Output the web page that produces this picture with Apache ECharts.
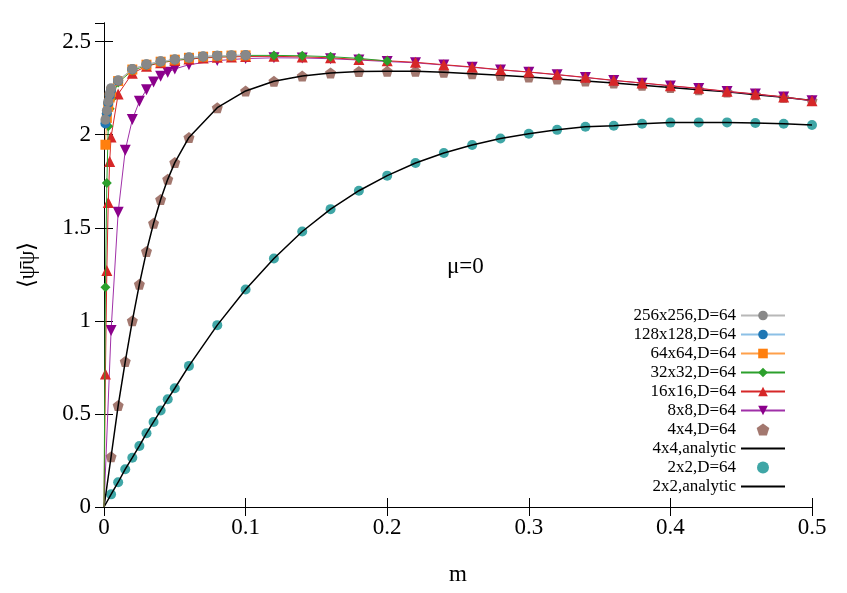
<!DOCTYPE html>
<html lang="en">
	<head>
		<meta charset="UTF-8">
		<title>chiral condensate vs m</title>
	</head>

	<style>
		html, body { margin: 0; padding: 0; background: #fff; }
		#echarts { width: 847px; height: 593px; }
	</style>

	<body>
		<div id="echarts"></div>
	</body>

	<script type="text/javascript" src="https://cdn.jsdelivr.net/npm/echarts@6/dist/echarts.min.js"></script>
	<script>
		// values, [m, <psibar psi>]
		var origin = [0, 0]

		var lat256 = [
			[0.001, 2.08], [0.002, 2.13], [0.003, 2.18], [0.004, 2.22], [0.005, 2.25],
			[0.01, 2.292], [0.02, 2.353], [0.03, 2.378], [0.04, 2.394], [0.05, 2.404],
			[0.06, 2.414], [0.07, 2.420], [0.08, 2.424], [0.09, 2.426], [0.10, 2.427]
		]
		var lat128 = [
			[0.001, 2.06], [0.002, 2.115], [0.003, 2.17], [0.004, 2.21], [0.005, 2.24],
			[0.01, 2.29], [0.02, 2.352], [0.03, 2.377], [0.04, 2.393], [0.05, 2.404],
			[0.06, 2.414], [0.07, 2.420], [0.08, 2.424], [0.09, 2.426], [0.10, 2.427]
		]
		var lat64 = [
			[0.001, 1.946], [0.002, 2.09], [0.003, 2.15], [0.004, 2.20], [0.005, 2.23],
			[0.01, 2.288], [0.02, 2.350], [0.03, 2.376], [0.04, 2.392], [0.05, 2.403],
			[0.06, 2.413], [0.07, 2.419], [0.08, 2.423], [0.09, 2.425], [0.10, 2.426]
		]
		var lat32 = [
			origin,
			[0.001, 1.181], [0.002, 1.740], [0.003, 2.045], [0.004, 2.14], [0.005, 2.19],
			[0.01, 2.28], [0.02, 2.345], [0.03, 2.372], [0.04, 2.39], [0.05, 2.40],
			[0.06, 2.41], [0.07, 2.417], [0.08, 2.421], [0.09, 2.424], [0.10, 2.426],
			[0.12, 2.426], [0.14, 2.424], [0.16, 2.419], [0.18, 2.410], [0.20, 2.396]
		]
		var lat16 = [
			origin,
			[0.001, 0.715], [0.002, 1.270], [0.003, 1.636], [0.004, 1.856], [0.005, 1.988],
			[0.01, 2.218], [0.02, 2.330], [0.03, 2.368], [0.04, 2.386], [0.05, 2.398],
			[0.06, 2.406], [0.07, 2.412], [0.08, 2.416], [0.09, 2.418], [0.10, 2.420],
			[0.12, 2.421], [0.14, 2.418], [0.16, 2.413], [0.18, 2.404], [0.20, 2.397],
			[0.22, 2.389], [0.24, 2.376], [0.26, 2.364], [0.28, 2.349], [0.30, 2.337],
			[0.32, 2.323], [0.34, 2.308], [0.36, 2.292], [0.38, 2.278], [0.40, 2.263],
			[0.42, 2.249], [0.44, 2.233], [0.46, 2.219], [0.48, 2.203], [0.50, 2.183]
		]
		var lat8 = [
			origin,
			[0.005, 0.948], [0.01, 1.584], [0.015, 1.916], [0.02, 2.081], [0.025, 2.179],
			[0.03, 2.242], [0.035, 2.283], [0.04, 2.314], [0.045, 2.335], [0.05, 2.353],
			[0.06, 2.376], [0.08, 2.398], [0.10, 2.409], [0.12, 2.413], [0.14, 2.412],
			[0.16, 2.408], [0.18, 2.401], [0.20, 2.393], [0.22, 2.386], [0.24, 2.374],
			[0.26, 2.362], [0.28, 2.348], [0.30, 2.336], [0.32, 2.322], [0.34, 2.307],
			[0.36, 2.291], [0.38, 2.277], [0.40, 2.262], [0.42, 2.248], [0.44, 2.232],
			[0.46, 2.218], [0.48, 2.202], [0.50, 2.182]
		]
		var lat4 = [
			[0.005, 0.270], [0.01, 0.545], [0.015, 0.781], [0.02, 1.000], [0.025, 1.197],
			[0.03, 1.373], [0.035, 1.524], [0.04, 1.652], [0.045, 1.760], [0.05, 1.850],
			[0.06, 1.985], [0.08, 2.145], [0.10, 2.235], [0.12, 2.287], [0.14, 2.315],
			[0.16, 2.332], [0.18, 2.340], [0.20, 2.341], [0.22, 2.341], [0.24, 2.335],
			[0.26, 2.328], [0.28, 2.319], [0.30, 2.310], [0.32, 2.299], [0.34, 2.289],
			[0.36, 2.278], [0.38, 2.265], [0.40, 2.253], [0.42, 2.242], [0.44, 2.230],
			[0.46, 2.215], [0.48, 2.201], [0.50, 2.184]
		]
		var lat2 = [
			[0.005, 0.068], [0.01, 0.133], [0.015, 0.203], [0.02, 0.265], [0.025, 0.328],
			[0.03, 0.396], [0.035, 0.457], [0.04, 0.518], [0.045, 0.579], [0.05, 0.638],
			[0.06, 0.758], [0.08, 0.977], [0.10, 1.168], [0.12, 1.335], [0.14, 1.480],
			[0.16, 1.600], [0.18, 1.699], [0.20, 1.780], [0.22, 1.848], [0.24, 1.902],
			[0.26, 1.945], [0.28, 1.980], [0.30, 2.005], [0.32, 2.026], [0.34, 2.043],
			[0.36, 2.048], [0.38, 2.059], [0.40, 2.065], [0.42, 2.066], [0.44, 2.066],
			[0.46, 2.063], [0.48, 2.059], [0.50, 2.052]
		]
		// analytic curves go through the origin and the same points
		var analytic4 = [origin].concat(lat4)
		var analytic2 = [origin].concat(lat2)

		var legendNames = [
			'256x256,D=64', '128x128,D=64', '64x64,D=64', '32x32,D=64', '16x16,D=64',
			'8x8,D=64', '4x4,D=64', '4x4,analytic', '2x2,D=64', '2x2,analytic'
		]
		var lineOnly = ['4x4,analytic', '2x2,analytic']
		var xTicks = [0, 0.5, 0.1]   // min, max, step
		var yTicks = [0, 2.6, 0.5]

		var FONT = 'Liberation Serif'
		var pentagon = 'path://M0,-10 L9.51,-3.09 L5.88,8.09 L-5.88,8.09 L-9.51,-3.09 Z'

		function noSymbolAtOrigin (list) {
			return list.map(function (p) {
				return (p[0] === 0 && p[1] === 0) ? { value: p, symbol: 'none' } : p
			})
		}

		function lineSeries (name, data, lineColor, color, symbol, size, z, extra) {
			var s = {
				name: name,
				type: 'line',
				data: noSymbolAtOrigin(data),
				symbol: symbol,
				symbolSize: size,
				showAllSymbol: true,
				z: z,
				lineStyle: { color: lineColor, width: 1 },
				itemStyle: { color: color }
			}
			for (var k in extra) s[k] = extra[k]
			return s
		}

		var myChart = echarts.init(document.getElementById('echarts'))

		var axisCommon = {
			type: 'value',
			axisLine: { show: true, lineStyle: { color: '#000', width: 1 } },
			axisTick: { show: true, inside: true, length: 9, lineStyle: { color: '#000' } },
			splitLine: { show: false }
		}

		var option = {
			animation: false,
			title: {
				text: 'μ=0',
				left: 442,
				top: 250,
				textStyle: { fontFamily: FONT, fontSize: 23, fontWeight: 'normal', color: '#000' }
			},
			grid: { left: 104, right: 35, top: 23, bottom: 86, containLabel: false },
			legend: {
				orient: 'vertical',
				align: 'right',
				right: 56,
				top: 302,
				itemWidth: 44,
				itemHeight: 12,
				itemGap: 2,
				data: legendNames.map(function (n) {
					return lineOnly.indexOf(n) >= 0 ? { name: n, itemStyle: { opacity: 0 } } : n
				}),
				textStyle: { fontFamily: FONT, fontSize: 17, lineHeight: 17, color: '#000' }
			},
			xAxis: [
				Object.assign({}, axisCommon, {
					min: xTicks[0], max: xTicks[1], interval: xTicks[2],
					name: 'm',
					nameLocation: 'middle',
					nameGap: 56,
					nameTextStyle: { fontFamily: FONT, fontSize: 23, color: '#000' },
					axisLabel: { fontFamily: FONT, fontSize: 23, color: '#000', margin: 9 }
				}),
				Object.assign({}, axisCommon, {
					position: 'top',
					min: xTicks[0], max: xTicks[1], interval: xTicks[2],
					axisLabel: { show: false }
				})
			],
			yAxis: [
				Object.assign({}, axisCommon, {
					min: yTicks[0], max: yTicks[1], interval: yTicks[2],
					name: '⟨ψ̄ψ⟩',
					nameLocation: 'middle',
					nameGap: 65,
					nameTextStyle: { fontFamily: FONT, fontSize: 23, color: '#000' },
					axisLabel: { fontFamily: FONT, fontSize: 23, color: '#000', margin: 13, showMaxLabel: false }
				}),
				Object.assign({}, axisCommon, {
					position: 'right',
					min: yTicks[0], max: yTicks[1], interval: yTicks[2],
					axisLabel: { show: false }
				})
			],
			series: [
				lineSeries('2x2,analytic', analytic2, '#000', '#000', 'none', 0, 3, { lineStyle: { color: '#000', width: 1.5 } }),
				{
					name: '2x2,D=64', type: 'scatter', data: lat2, z: 2,
					symbol: 'circle', symbolSize: 10,
					itemStyle: { color: '#0f9090' }
				},
				lineSeries('4x4,analytic', analytic4, '#000', '#000', 'none', 0, 5, { lineStyle: { color: '#000', width: 1.5 } }),
				{
					name: '4x4,D=64', type: 'scatter', data: lat4, z: 4,
					symbol: pentagon, symbolSize: 11,
					itemStyle: { color: '#8c564b' }
				},
				lineSeries('8x8,D=64', lat8, '#a030a8', '#8b008b', 'triangle', 11, 6, { symbolRotate: 180 }),
				lineSeries('16x16,D=64', lat16, '#d62728', '#d62728', 'triangle', 11, 7, {}),
				lineSeries('32x32,D=64', lat32, '#2ca02c', '#2ca02c', 'diamond', 10, 8, {}),
				lineSeries('64x64,D=64', lat64, '#ffa04a', '#ff7f0e', 'rect', 10, 9, {}),
				lineSeries('128x128,D=64', lat128, '#8cc0e6', '#1f77b4', 'circle', 10, 10, {}),
				lineSeries('256x256,D=64', lat256, '#b8b8b8', '#888888', 'circle', 10, 11, {})
			]
		}

		myChart.setOption(option, true)
	</script>
</html>
